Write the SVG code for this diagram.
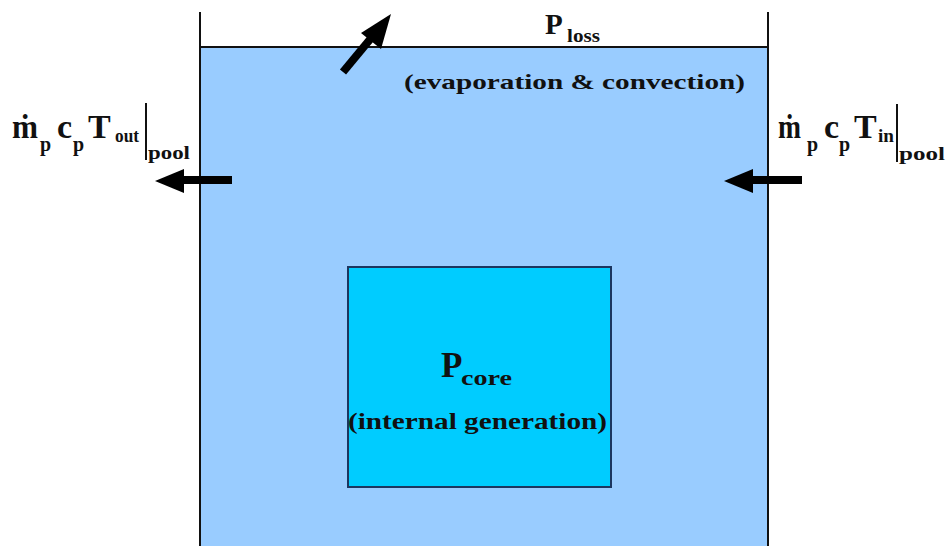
<svg xmlns="http://www.w3.org/2000/svg" width="947" height="546" viewBox="0 0 947 546">
<style>
text{font-family:"Liberation Serif","Times New Roman",serif;font-weight:bold;fill:#111}
.wall{stroke:#111;stroke-width:2;fill:none}
.arr{stroke:#000;stroke-width:8;fill:none}
.head{fill:#000}
.big{font-size:34px}
.sb{font-size:20px}
</style>
<rect width="947" height="546" fill="#fff"/>
<g id="pool">
<rect x="199" y="47" width="569" height="500" fill="#99CCFF"/>
<line class="wall" x1="199" y1="47" x2="768" y2="47" stroke-width="1.5"/>
<line class="wall" x1="200" y1="12" x2="200" y2="546"/>
<line class="wall" x1="768" y1="12" x2="768" y2="546"/>
</g>
<g id="core">
<rect x="348" y="267" width="263" height="220" fill="#00CCFF" stroke="#1c3660" stroke-width="2"/>
<text x="441" y="377" font-size="35">P</text>
<text x="461" y="385" font-size="22" textLength="51" lengthAdjust="spacingAndGlyphs">core</text>
<text x="348" y="429" font-size="23" textLength="259" lengthAdjust="spacingAndGlyphs">(internal generation)</text>
</g>
<g id="loss">
<text x="545" y="34" font-size="29">P</text>
<text x="567" y="42" font-size="18" textLength="33" lengthAdjust="spacingAndGlyphs">loss</text>
<text x="404" y="89" font-size="22" textLength="341" lengthAdjust="spacingAndGlyphs">(evaporation &amp; convection)</text>
</g>
<g id="outlet">
<text class="big" x="12" y="138" textLength="26" lengthAdjust="spacingAndGlyphs">ṁ</text>
<text class="sb" x="40" y="151">p</text>
<text class="big" x="57" y="138" font-size="28">c</text>
<text class="sb" x="73" y="151">p</text>
<text class="big" x="88" y="138">T</text>
<text x="115" y="142" font-size="19" textLength="24" lengthAdjust="spacingAndGlyphs">out</text>
<line x1="146" y1="103" x2="146" y2="160" stroke="#111" stroke-width="2"/>
<text x="148" y="159" font-size="19" textLength="42" lengthAdjust="spacingAndGlyphs">pool</text>
</g>
<g id="inlet">
<text class="big" x="778" y="138" textLength="23" lengthAdjust="spacingAndGlyphs">ṁ</text>
<text class="sb" x="807" y="151">p</text>
<text class="big" x="824" y="138" font-size="28">c</text>
<text class="sb" x="839" y="151">p</text>
<text class="big" x="854" y="138">T</text>
<text x="878" y="142" font-size="19" textLength="16" lengthAdjust="spacingAndGlyphs">in</text>
<line x1="897" y1="104" x2="897" y2="162" stroke="#111" stroke-width="2"/>
<text x="899" y="160" font-size="19" textLength="46" lengthAdjust="spacingAndGlyphs">pool</text>
</g>
<g id="connectors">
<line class="arr" x1="232" y1="180" x2="180" y2="180"/>
<polygon class="head" points="155,181 184,169 184,193"/>
<line class="arr" x1="802" y1="180" x2="750" y2="180"/>
<polygon class="head" points="724,181 753,169 753,193"/>
<line class="arr" x1="343" y1="72" x2="372" y2="37"/>
<polygon class="head" points="391,14 361,33 381,49"/>
</g>
</svg>
